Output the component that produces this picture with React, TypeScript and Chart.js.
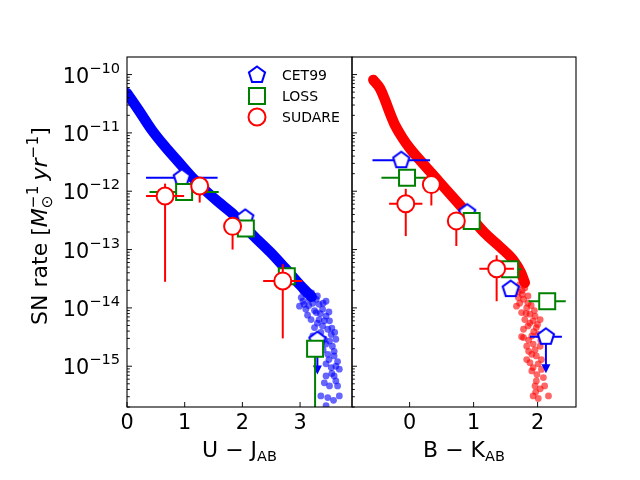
import React, { useEffect, useRef } from 'react';
import { Chart, registerables } from 'chart.js';

Chart.register(...registerables);

const FONT = '"DejaVu Sans", "Liberation Sans", sans-serif';

// ---- axes ----
const Y_MIN = 2e-16;
const Y_MAX = 2e-10;
const Y_TICK_EXPONENTS = [-15, -14, -13, -12, -11, -10];
const UJ_X_MIN = 0;
const UJ_X_MAX = 3.9;
const BK_X_MIN = -0.9;
const BK_X_MAX = 2.6;
const UJ_X_TICKS = [0, 1, 2, 3];
const BK_X_TICKS = [0, 1, 2];
const SERIES_NAMES = ['CET99', 'LOSS', 'SUDARE'];

// ---- left panel (U - J) model band + scattered tail ----
const UJ_BAND_X = [0, 0.2, 0.43, 0.66, 0.89, 1.12, 1.35, 1.58, 1.82, 1.99, 2.18, 2.48, 2.74, 3.0, 3.2];
const UJ_BAND_Y = [4.8e-11, 2.47e-11, 1.12e-11, 5.8e-12, 3.2e-12, 1.77e-12, 1.05e-12, 6.6e-13, 4.2e-13, 2.8e-13, 1.77e-13, 9.1e-14, 4.8e-14, 2.47e-14, 1.55e-14];
const UJ_TAIL_X = [3.02, 3.07, 3.16, 3.22, 3.28, 3.33, 3.39, 3.28, 3.19, 3.33, 3.45, 3.51, 3.25, 3.39, 3.48, 3.54, 3.22, 3.51, 3.56, 3.59, 3.48, 3.65, 3.54, 3.45, 3.59, 3.45, 3.42, 3.62, 3.51, 3.36, 3.48, 3.68, 3.45, 3.36, 3.62, 3.42, 3.45, 3.05, 3.59, 3.68, 2.99, 3.1, 3.13, 3.05, 3.65, 3.1, 3.2, 3.15, 3.25, 3.35, 3.3, 3.4, 3.42, 3.3, 3.5, 3.36, 3.55, 3.45, 3.6, 3.4, 3.5, 3.62, 3.55, 3.58];
const UJ_TAIL_Y = [1.5e-14, 1.15e-14, 1.4e-14, 1.2e-14, 1.4e-14, 1.15e-14, 9.5e-15, 8.3e-15, 6.3e-15, 6.3e-15, 7.2e-15, 6.0e-15, 4.6e-15, 4.9e-15, 4.3e-15, 3.5e-15, 3.3e-15, 2.7e-15, 2.2e-15, 1.8e-15, 1.6e-15, 1.2e-15, 9.5e-16, 1.1e-15, 6.8e-16, 6.8e-16, 5.2e-16, 5.6e-16, 4.6e-16, 3.1e-16, 2.9e-16, 3.1e-16, 2.1e-16, 2.1e-15, 2.9e-15, 2.9e-15, 1.3e-14, 1.9e-14, 1.5e-15, 8.9e-16, 1.07e-14, 9.5e-15, 7.5e-15, 1.3e-14, 4.6e-16, 1.7e-14, 1.8e-14, 1.1e-14, 9e-15, 8e-15, 1.6e-14, 1.2e-14, 6e-15, 5.5e-15, 8.5e-15, 3.8e-15, 4.5e-15, 2.4e-15, 3.8e-15, 1.9e-15, 1.3e-15, 1.0e-15, 7.5e-16, 2.6e-16];

// ---- right panel (B - K) model band + scattered tail ----
const BK_BAND_X = [-0.567, -0.463, -0.384, -0.306, -0.228, -0.123, 0.006, 0.163, 0.345, 0.553, 0.761, 0.97, 1.178, 1.41, 1.62, 1.74, 1.8];
const BK_BAND_Y = [8.1e-11, 5.8e-11, 3.66e-11, 2.17e-11, 1.36e-11, 8.6e-12, 5.4e-12, 3.4e-12, 2.03e-12, 1.12e-12, 6.2e-13, 3.43e-13, 1.9e-13, 1.12e-13, 6.6e-14, 4.0e-14, 2.7e-14];
const BK_TAIL_X = [1.70, 1.78, 1.67, 1.83, 1.75, 1.88, 1.96, 1.80, 1.93, 2.04, 1.85, 1.98, 1.78, 1.91, 2.01, 1.83, 1.93, 2.04, 1.91, 1.98, 1.88, 1.93, 2.01, 1.91, 1.98, 2.09, 1.96, 2.11, 1.93, 2.01, 2.17, 2.04, 1.72, 1.85, 1.78, 1.83, 1.75, 1.70, 1.76, 1.72, 1.8, 1.85, 1.9, 1.76, 1.95, 1.82, 2.0, 1.88, 1.94, 2.05, 1.86, 1.96, 2.06, 1.86, 1.99, 2.06, 1.97];
const BK_TAIL_Y = [1.5e-14, 1.4e-14, 1.07e-14, 1.0e-14, 8.3e-15, 7.8e-15, 7.2e-15, 6.3e-15, 6.0e-15, 6.3e-15, 4.9e-15, 4.6e-15, 3.1e-15, 3.3e-15, 3.5e-15, 2.2e-15, 2.4e-15, 2.2e-15, 1.6e-15, 1.5e-15, 1.15e-15, 9.5e-16, 1.1e-15, 8.3e-16, 5.6e-16, 6.4e-16, 4.6e-16, 4.6e-16, 3.1e-16, 2.8e-16, 3.1e-16, 4.1e-16, 1.2e-14, 1.2e-14, 4.3e-15, 1.3e-15, 3.2e-15, 1.9e-14, 2.0e-14, 2.5e-14, 2.2e-14, 1.6e-14, 1.1e-14, 1.7e-14, 9e-15, 8e-15, 5.2e-15, 5.5e-15, 3.9e-15, 2.8e-15, 2.8e-15, 1.9e-15, 1.3e-15, 1.8e-15, 7.2e-16, 8.8e-16, 3.6e-16];

// ---- observed rates, left panel ----
const CET_UJ_X = [0.95, 2.05, 3.3];
const CET_UJ_Y = [1.7e-12, 3.5e-13, 2.8e-15];
const CET_UJ_XERR = [0.62, 0, 0];
const CET_UJ_YLO = [null, null, null];
const CET_UJ_YHI = [null, null, null];
const CET_UJ_ULIM = [null, null, 7.2e-16];

const LOSS_UJ_X = [0.99, 2.06, 2.77, 3.26];
const LOSS_UJ_Y = [9.7e-13, 2.3e-13, 3.5e-14, 2.0e-15];
const LOSS_UJ_XERR = [0.6, 0.12, 0.12, 0.05];
const LOSS_UJ_YLO = [null, null, null, 1e-17];
const LOSS_UJ_YHI = [null, null, null, null];
const LOSS_UJ_ULIM = [null, null, null, null];

const SUD_UJ_X = [0.66, 1.26, 1.83, 2.7];
const SUD_UJ_Y = [8.3e-13, 1.23e-12, 2.5e-13, 2.9e-14];
const SUD_UJ_XERR = [0.33, 0.1, 0.08, 0.34];
const SUD_UJ_YLO = [2.8e-14, 6.4e-13, 1.0e-13, 3.0e-15];
const SUD_UJ_YHI = [1.35e-12, 1.6e-12, 3.3e-13, 5.6e-14];
const SUD_UJ_ULIM = [null, null, null, null];

// ---- observed rates, right panel ----
const CET_BK_X = [-0.13, 0.9, 1.58, 2.13];
const CET_BK_Y = [3.4e-12, 4.3e-13, 2.1e-14, 3.2e-15];
const CET_BK_XERR = [0.45, 0.1, 0.12, 0.25];
const CET_BK_YLO = [null, null, null, null];
const CET_BK_YHI = [null, null, null, null];
const CET_BK_ULIM = [null, null, null, 7.6e-16];

const LOSS_BK_X = [-0.04, 0.97, 1.57, 2.15];
const LOSS_BK_Y = [1.7e-12, 3.1e-13, 4.6e-14, 1.3e-14];
const LOSS_BK_XERR = [0.4, 0.1, 0.18, 0.29];
const LOSS_BK_YLO = [null, null, null, null];
const LOSS_BK_YHI = [null, null, null, null];
const LOSS_BK_ULIM = [null, null, null, null];

const SUD_BK_X = [0.34, -0.06, 0.73, 1.36];
const SUD_BK_Y = [1.3e-12, 6.1e-13, 3.1e-13, 4.7e-14];
const SUD_BK_XERR = [0.08, 0.26, 0.08, 0.27];
const SUD_BK_YLO = [5.7e-13, 1.7e-13, 1.15e-13, 1.3e-14];
const SUD_BK_YHI = [1.6e-12, 1.1e-12, 3.6e-13, 8e-14];
const SUD_BK_ULIM = [null, null, null, null];

const BLUE = '#0000ff';
const GREEN = '#008000';
const RED = '#ff0000';

type Piece = { t: string; size: number; italic?: boolean; dy?: number; stack?: boolean };

function layoutPieces(ctx: CanvasRenderingContext2D, pieces: Piece[]) {
  let x = 0;
  let prevStart = 0;
  let prevW = 0;
  const items: any[] = [];
  for (const p of pieces) {
    ctx.font = `${p.italic ? 'italic ' : ''}${p.size}px ${FONT}`;
    const w = ctx.measureText(p.t).width;
    let start: number;
    if (p.stack) {
      start = prevStart;
      x = prevStart + Math.max(prevW, w);
    } else {
      start = x;
      x += w;
    }
    items.push({ ...p, x: start, w });
    prevStart = start;
    prevW = w;
  }
  return { items, width: x };
}

function drawPieces(ctx: CanvasRenderingContext2D, pieces: Piece[], x: number, y: number, align: 'left' | 'center' | 'right') {
  const { items, width } = layoutPieces(ctx, pieces);
  const x0 = align === 'left' ? x : align === 'center' ? x - width / 2 : x - width;
  ctx.textAlign = 'left';
  ctx.textBaseline = 'alphabetic';
  for (const it of items) {
    ctx.font = `${it.italic ? 'italic ' : ''}${it.size}px ${FONT}`;
    ctx.fillText(it.t, x0 + it.x, y + (it.dy || 0));
  }
}

function makePentagon(color: string) {
  const c = document.createElement('canvas');
  c.width = 24;
  c.height = 24;
  const g = c.getContext('2d') as CanvasRenderingContext2D;
  const R = 8.5;
  g.beginPath();
  for (let i = 0; i < 5; i++) {
    const ang = (-90 + 72 * i) * Math.PI / 180;
    const px = 12 + R * Math.cos(ang);
    const py = 12 + R * Math.sin(ang);
    if (i === 0) g.moveTo(px, py); else g.lineTo(px, py);
  }
  g.closePath();
  g.fillStyle = '#ffffff';
  g.fill();
  g.lineWidth = 2;
  g.lineJoin = 'miter';
  g.strokeStyle = color;
  g.stroke();
  return c;
}

const errorBarPlugin = {
  id: 'errorBars',
  beforeDatasetDraw(chart: any, args: any) {
    const ds = chart.data.datasets[args.index];
    if (!ds.errorBars) return;
    const { ctx, chartArea: a } = chart;
    const xs = chart.scales.x;
    const ys = chart.scales.y;
    ctx.save();
    ctx.beginPath();
    ctx.rect(a.left, a.top, a.right - a.left, a.bottom - a.top);
    ctx.clip();
    ctx.strokeStyle = ds.borderColor;
    ctx.fillStyle = ds.borderColor;
    ctx.lineWidth = 2;
    const seg = (x1: number, y1: number, x2: number, y2: number) => {
      ctx.beginPath();
      ctx.moveTo(x1, y1);
      ctx.lineTo(x2, y2);
      ctx.stroke();
    };
    ds.data.forEach((p: any, i: number) => {
      const e = ds.errorBars[i];
      const px = xs.getPixelForValue(p.x);
      const py = ys.getPixelForValue(p.y);
      if (e.xerr) seg(xs.getPixelForValue(p.x - e.xerr), py, xs.getPixelForValue(p.x + e.xerr), py);
      if (e.ylo != null) seg(px, py, px, ys.getPixelForValue(e.ylo));
      if (e.yhi != null) seg(px, py, px, ys.getPixelForValue(e.yhi));
      if (e.ulim != null) {
        const ty = ys.getPixelForValue(e.ulim);
        seg(px, py, px, ty - 6);
        ctx.beginPath();
        ctx.moveTo(px - 4.5, ty - 9);
        ctx.lineTo(px + 4.5, ty - 9);
        ctx.lineTo(px, ty);
        ctx.closePath();
        ctx.fill();
      }
    });
    ctx.restore();
  },
};

const axesPlugin = {
  id: 'mplAxes',
  afterDraw(chart: any) {
    const o = chart.options.plugins.mplAxes;
    const { ctx, chartArea: a } = chart;
    const xs = chart.scales.x;
    const ys = chart.scales.y;
    ctx.save();
    ctx.strokeStyle = '#111';
    ctx.fillStyle = '#000';
    ctx.lineWidth = 1;
    const seg = (x1: number, y1: number, x2: number, y2: number) => {
      ctx.beginPath();
      ctx.moveTo(x1, y1);
      ctx.lineTo(x2, y2);
      ctx.stroke();
    };
    // y ticks (inward, on left spine)
    for (let e = -16; e <= -10; e++) {
      for (let k = 1; k < 10; k++) {
        const v = k * Math.pow(10, e);
        if (v < Y_MIN * 0.999 || v > Y_MAX * 0.999) continue;
        const py = ys.getPixelForValue(v);
        seg(a.left, py, a.left + (k === 1 ? 5 : 2.8), py);
      }
    }
    // x ticks (inward, on bottom spine)
    o.xTicks.forEach((t: number) => {
      const px = xs.getPixelForValue(t);
      seg(px, a.bottom, px, a.bottom - 5);
    });
    // frame
    ctx.lineWidth = 1.1;
    ctx.strokeStyle = '#000';
    ctx.strokeRect(a.left, a.top, a.right - a.left, a.bottom - a.top);

    // x tick labels
    ctx.font = `20.8px ${FONT}`;
    ctx.textAlign = 'center';
    ctx.textBaseline = 'alphabetic';
    o.xTicks.forEach((t: number) => {
      ctx.fillText(String(t), xs.getPixelForValue(t), a.bottom + 22);
    });

    // y tick labels
    if (o.yLabels) {
      Y_TICK_EXPONENTS.forEach((e) => {
        const py = ys.getPixelForValue(Math.pow(10, e));
        drawPieces(ctx, [
          { t: '10', size: 20.8 },
          { t: '\u2212' + String(Math.abs(e)), size: 14.6, dy: -10 },
        ], a.left - 7, py + 8, 'right');
      });
    }

    // x axis label
    const cx = (a.left + a.right) / 2;
    drawPieces(ctx, [
      { t: o.xMain, size: 22 },
      { t: 'AB', size: 14.5, dy: 4 },
    ], cx, a.bottom + 50, 'center');

    // y axis title
    if (o.yTitle) {
      ctx.save();
      ctx.translate(47, (a.top + a.bottom) / 2 - 6);
      ctx.rotate(-Math.PI / 2);
      drawPieces(ctx, [
        { t: 'SN rate [', size: 22 },
        { t: 'M', size: 22, italic: true },
        { t: '\u2299', size: 15.4, dy: 4.5 },
        { t: '\u22121', size: 15.4, dy: -9.5, stack: true },
        { t: ' ', size: 16 },
        { t: 'yr', size: 22, italic: true },
        { t: '\u22121', size: 15.4, dy: -9.5 },
        { t: ']', size: 22 },
      ], 0, 0, 'center');
      ctx.restore();
    }
    ctx.restore();
  },
};

const legendPlugin = {
  id: 'mplLegend',
  afterDraw(chart: any) {
    const o = chart.options.plugins.mplLegend;
    if (!o || !o.show) return;
    const { ctx, chartArea: a } = chart;
    const mx = a.right - 95;
    const tx = a.right - 70;
    ctx.save();
    SERIES_NAMES.forEach((name, i) => {
      const y = a.top + 18 + i * 21;
      ctx.lineWidth = 2;
      if (i === 0) {
        ctx.drawImage(o.pentagon, mx - 12, y - 12);
      } else if (i === 1) {
        ctx.fillStyle = '#fff';
        ctx.strokeStyle = GREEN;
        ctx.beginPath();
        ctx.rect(mx - 8, y - 8, 16, 16);
        ctx.fill();
        ctx.stroke();
      } else {
        ctx.fillStyle = '#fff';
        ctx.strokeStyle = RED;
        ctx.beginPath();
        ctx.arc(mx, y, 8.5, 0, Math.PI * 2);
        ctx.fill();
        ctx.stroke();
      }
      ctx.fillStyle = '#000';
      ctx.font = `14px ${FONT}`;
      ctx.textAlign = 'left';
      ctx.textBaseline = 'alphabetic';
      ctx.fillText(name, tx, y + 5);
    });
    ctx.restore();
  },
};

function pts(xs: number[], ys: number[]) {
  return xs.map((x, i) => ({ x, y: ys[i] }));
}

function errs(xerr: number[], ylo: any[], yhi: any[], ulim: any[]) {
  return xerr.map((xe, i) => ({ xerr: xe, ylo: ylo[i], yhi: yhi[i], ulim: ulim[i] }));
}

function markerSet(label: string, data: any[], errorBars: any[], color: string, style: any, radius: number, order: number) {
  return {
    label,
    data,
    errorBars,
    order,
    clip: 0,
    showLine: false,
    pointStyle: style,
    pointRadius: radius,
    pointHoverRadius: radius,
    pointBackgroundColor: '#ffffff',
    pointBorderColor: color,
    pointBorderWidth: 2,
    borderColor: color,
    backgroundColor: '#ffffff',
  };
}

function bandSet(data: any[], color: string) {
  return {
    label: 'model',
    data,
    order: 5,
    clip: 0,
    showLine: true,
    borderColor: color,
    borderWidth: 10.5,
    borderCapStyle: 'round',
    borderJoinStyle: 'round',
    cubicInterpolationMode: 'monotone',
    pointRadius: 0,
    pointHoverRadius: 0,
    fill: false,
  };
}

function tailSet(data: any[], color: string) {
  return {
    label: 'tail',
    data,
    order: 4,
    clip: 0,
    showLine: false,
    pointRadius: 3.4,
    pointHoverRadius: 3.4,
    pointBorderWidth: 0,
    pointBackgroundColor: color,
    backgroundColor: color,
    borderColor: color,
  };
}

function makeConfig(datasets: any[], xMin: number, xMax: number, padding: any, axesOpts: any, legendOpts: any) {
  return {
    type: 'scatter',
    data: { datasets },
    options: {
      animation: false,
      responsive: false,
      maintainAspectRatio: false,
      events: [],
      layout: { padding },
      scales: {
        x: { type: 'linear', min: xMin, max: xMax, display: false },
        y: { type: 'logarithmic', min: Y_MIN, max: Y_MAX, display: false },
      },
      plugins: {
        legend: { display: false },
        tooltip: { enabled: false },
        mplAxes: axesOpts,
        mplLegend: legendOpts,
      },
    },
    plugins: [errorBarPlugin, axesPlugin, legendPlugin],
  } as any;
}

export default function App() {
  const leftRef = useRef<HTMLCanvasElement>(null);
  const rightRef = useRef<HTMLCanvasElement>(null);

  useEffect(() => {
    const pentBlue = makePentagon(BLUE);

    const leftSets = [
      markerSet('SUDARE', pts(SUD_UJ_X, SUD_UJ_Y), errs(SUD_UJ_XERR, SUD_UJ_YLO, SUD_UJ_YHI, SUD_UJ_ULIM), RED, 'circle', 8.5, 0),
      markerSet('LOSS', pts(LOSS_UJ_X, LOSS_UJ_Y), errs(LOSS_UJ_XERR, LOSS_UJ_YLO, LOSS_UJ_YHI, LOSS_UJ_ULIM), GREEN, 'rect', 11.3, 1),
      markerSet('CET99', pts(CET_UJ_X, CET_UJ_Y), errs(CET_UJ_XERR, CET_UJ_YLO, CET_UJ_YHI, CET_UJ_ULIM), BLUE, pentBlue, 8, 2),
      tailSet(pts(UJ_TAIL_X, UJ_TAIL_Y), 'rgba(0,0,255,0.6)'),
      bandSet(pts(UJ_BAND_X, UJ_BAND_Y), BLUE),
    ];
    const rightSets = [
      markerSet('SUDARE', pts(SUD_BK_X, SUD_BK_Y), errs(SUD_BK_XERR, SUD_BK_YLO, SUD_BK_YHI, SUD_BK_ULIM), RED, 'circle', 8.5, 0),
      markerSet('LOSS', pts(LOSS_BK_X, LOSS_BK_Y), errs(LOSS_BK_XERR, LOSS_BK_YLO, LOSS_BK_YHI, LOSS_BK_ULIM), GREEN, 'rect', 11.3, 1),
      markerSet('CET99', pts(CET_BK_X, CET_BK_Y), errs(CET_BK_XERR, CET_BK_YLO, CET_BK_YHI, CET_BK_ULIM), BLUE, pentBlue, 8, 2),
      tailSet(pts(BK_TAIL_X, BK_TAIL_Y), 'rgba(255,0,0,0.6)'),
      bandSet(pts(BK_BAND_X, BK_BAND_Y), RED),
    ];

    const left = new Chart(leftRef.current as HTMLCanvasElement, makeConfig(
      leftSets, UJ_X_MIN, UJ_X_MAX,
      { left: 127, right: 288, top: 57, bottom: 73 },
      { xTicks: UJ_X_TICKS, yLabels: true, yTitle: true, xMain: 'U \u2212 J' },
      { show: true, pentagon: pentBlue },
    ));
    const right = new Chart(rightRef.current as HTMLCanvasElement, makeConfig(
      rightSets, BK_X_MIN, BK_X_MAX,
      { left: 352, right: 64, top: 57, bottom: 73 },
      { xTicks: BK_X_TICKS, yLabels: false, yTitle: false, xMain: 'B \u2212 K' },
      { show: false },
    ));
    return () => {
      left.destroy();
      right.destroy();
    };
  }, []);

  return (
    <div style={{ position: 'absolute', left: 0, top: 0, width: 640, height: 480, background: '#ffffff' }}>
      <canvas ref={leftRef} width={640} height={480} style={{ position: 'absolute', left: 0, top: 0 }} />
      <canvas ref={rightRef} width={640} height={480} style={{ position: 'absolute', left: 0, top: 0 }} />
    </div>
  );
}
